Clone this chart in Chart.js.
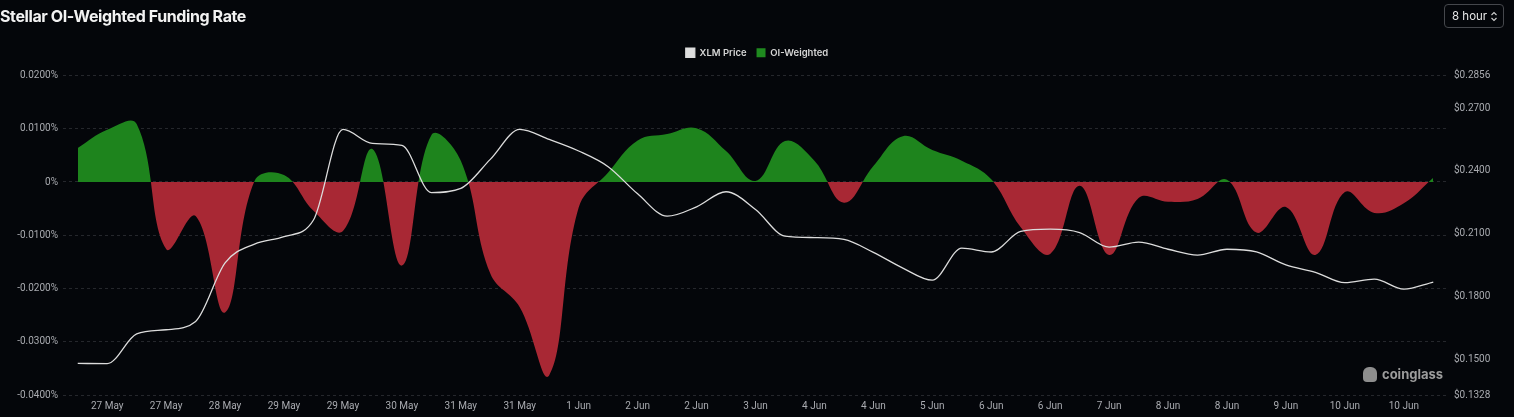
<!DOCTYPE html>
<html>
<head>
<meta charset="utf-8">
<script src="https://cdn.jsdelivr.net/npm/chart.js@4.4.1/dist/chart.umd.min.js"></script>
<style>
  html, body { margin: 0; padding: 0; background: #04060a; }
  #wrap { position: relative; width: 1514px; height: 417px; overflow: hidden; }
  #myChart { position: absolute; left: 0; top: 0; }
  #title {
    position: absolute; left: 0; top: 6px;
    font-family: Inter, sans-serif; font-weight: 700; font-size: 16px;
    letter-spacing: -0.4px; color: #f2f2f2;
  }
  #interval {
    position: absolute; left: 1444px; top: 4px; width: 58px; height: 22px;
    border: 1px solid #45474c; border-radius: 4px;
    font-family: Inter, sans-serif; font-size: 11.5px; color: #e8e8e8;
    line-height: 22px;
  }
  #interval span { position: absolute; left: 7px; }
  #interval svg { position: absolute; left: 45px; top: 6px; }
  #mark {
    position: absolute; left: 1363px; top: 366px;
    font-family: Inter, sans-serif; font-weight: 700; font-size: 13px; color: #9c9c9c;
  }
  #mark b { display: inline-block; width: 14px; height: 15px; background: #8e8e8e; border-radius: 6px 6px 4px 4px; vertical-align: -3px; margin-right: 5px; }
</style>
</head>
<body>
<div id="wrap">
  <canvas id="myChart" width="1514" height="417"></canvas>
  <div id="title">Stellar OI-Weighted Funding Rate</div>
  <div id="interval"><span>8 hour</span><svg width="8" height="11" viewBox="0 0 8 11"><path d="M1.5 4 L4 1.5 L6.5 4 M1.5 7 L4 9.5 L6.5 7" stroke="#cfcfcf" stroke-width="1.1" fill="none"/></svg></div>
  <div id="mark"><b></b>coinglass</div>
</div>
<script>
// 8h steps, 26 May 16:00 -> 11 Jun 00:00
const dates = [
  '26 May', '27 May', '27 May', '27 May', '28 May', '28 May', '28 May', '29 May', '29 May', '29 May',
  '30 May', '30 May', '30 May', '31 May', '31 May', '31 May', '1 Jun', '1 Jun', '1 Jun', '2 Jun',
  '2 Jun', '2 Jun', '3 Jun', '3 Jun', '3 Jun', '4 Jun', '4 Jun', '4 Jun', '5 Jun', '5 Jun',
  '5 Jun', '6 Jun', '6 Jun', '6 Jun', '7 Jun', '7 Jun', '7 Jun', '8 Jun', '8 Jun', '8 Jun',
  '9 Jun', '9 Jun', '9 Jun', '10 Jun', '10 Jun', '10 Jun', '11 Jun'
];

// funding rate in %
const oiWeighted = [
  0.0064, 0.0098, 0.0109, -0.0126, -0.0064, -0.0245, 0.0002, 0.0013, -0.0054, -0.0092,
  0.0062, -0.0157, 0.0088, 0.0040, -0.0172, -0.0235, -0.0363, -0.0048, 0.0018, 0.0078,
  0.0090, 0.0101, 0.0058, 0.0002, 0.0077, 0.0040, -0.0039, 0.0030, 0.0086, 0.0060,
  0.0040, 0.0005, -0.0085, -0.0135, -0.0007, -0.0137, -0.0030, -0.0037, -0.0032, 0.0004,
  -0.0095, -0.0047, -0.0137, -0.0019, -0.0058, -0.0040, 0.0008
];

const xlmPrice = [
  0.1479, 0.1478, 0.1620, 0.1640, 0.1680, 0.1960, 0.2050, 0.2085, 0.2165, 0.2598,
  0.2531, 0.2522, 0.2296, 0.2316, 0.2455, 0.2598, 0.2550, 0.2495, 0.2420, 0.2290,
  0.2183, 0.2228, 0.2300, 0.2215, 0.2088, 0.2081, 0.2072, 0.2010, 0.1935, 0.1877,
  0.2030, 0.2012, 0.2110, 0.2121, 0.2105, 0.2035, 0.2059, 0.2025, 0.1997, 0.2025,
  0.2012, 0.1950, 0.1915, 0.1865, 0.1882, 0.1834, 0.1868
];

const fundingTicks = [-0.04, -0.03, -0.02, -0.01, 0, 0.01, 0.02];
const priceTicks = [0.1328, 0.15, 0.18, 0.21, 0.24, 0.27, 0.2856];

const axisFont = { family: "'Liberation Sans Narrow', 'Roboto', sans-serif", size: 10 };
const axisColor = '#a9abb0';

// leave some room under the legend
const legendGap = {
  id: 'legendGap',
  beforeInit(chart) {
    const fit = chart.legend.fit;
    chart.legend.fit = function () {
      fit.bind(chart.legend)();
      this.height += 8;
    };
  }
};

const ctx = document.getElementById('myChart').getContext('2d');

const myChart = new Chart(ctx, {
  type: 'line',
  data: {
    labels: dates,
    datasets: [{
      label: 'XLM Price',
      data: xlmPrice,
      yAxisID: 'y1',
      borderColor: '#dcdcdc',
      backgroundColor: '#dedede',
      borderWidth: 1.3,
      pointRadius: 0,
      cubicInterpolationMode: 'monotone',
      fill: false
    }, {
      label: 'OI-Weighted',
      data: oiWeighted,
      yAxisID: 'y',
      borderWidth: 0,
      borderColor: 'rgba(0,0,0,0)',
      backgroundColor: '#1f8a1f',
      pointRadius: 0,
      tension: 0.4,
      fill: { target: 'origin', above: '#1e841d', below: '#a82834' }
    }]
  },
  options: {
    responsive: false,
    animation: false,
    layout: { padding: { top: 38 } },
    plugins: {
      legend: {
        labels: {
          boxWidth: 9,
          boxHeight: 9,
          padding: 10,
          color: '#d6d6d6',
          font: { family: 'Inter, sans-serif', size: 9.5, weight: '600' }
        }
      },
      tooltip: { enabled: false }
    },
    scales: {
      x: {
        offset: true,
        grid: { display: false, drawTicks: false },
        border: { display: false },
        afterFit: s => { s.height = 22; },
        ticks: {
          autoSkip: false,
          maxRotation: 0,
          padding: 5,
          color: axisColor,
          font: axisFont,
          callback: (v, i) => (i % 2 === 1 ? dates[i] : '')
        }
      },
      y: {
        position: 'left',
        min: -0.04,
        max: 0.02,
        afterFit: s => { s.width = 63; },
        afterBuildTicks: s => { s.ticks = fundingTicks.map(v => ({ value: v })); },
        grid: { color: '#25272c', drawTicks: false, lineWidth: 1 },
        border: { display: false, dash: [3, 3] },
        ticks: {
          padding: 5,
          color: axisColor,
          font: axisFont,
          callback: v => (Math.abs(v) < 1e-9 ? '0%' : v.toFixed(4) + '%')
        }
      },
      y1: {
        position: 'right',
        min: 0.1328,
        max: 0.2856,
        afterFit: s => { s.width = 66; },
        afterBuildTicks: s => { s.ticks = priceTicks.map(v => ({ value: v })); },
        grid: { display: false, drawTicks: false },
        border: { display: false },
        ticks: {
          padding: 6,
          color: axisColor,
          font: axisFont,
          callback: v => '$' + v.toFixed(4)
        }
      }
    }
  },
  plugins: [legendGap]
});
</script>
</body>
</html>
